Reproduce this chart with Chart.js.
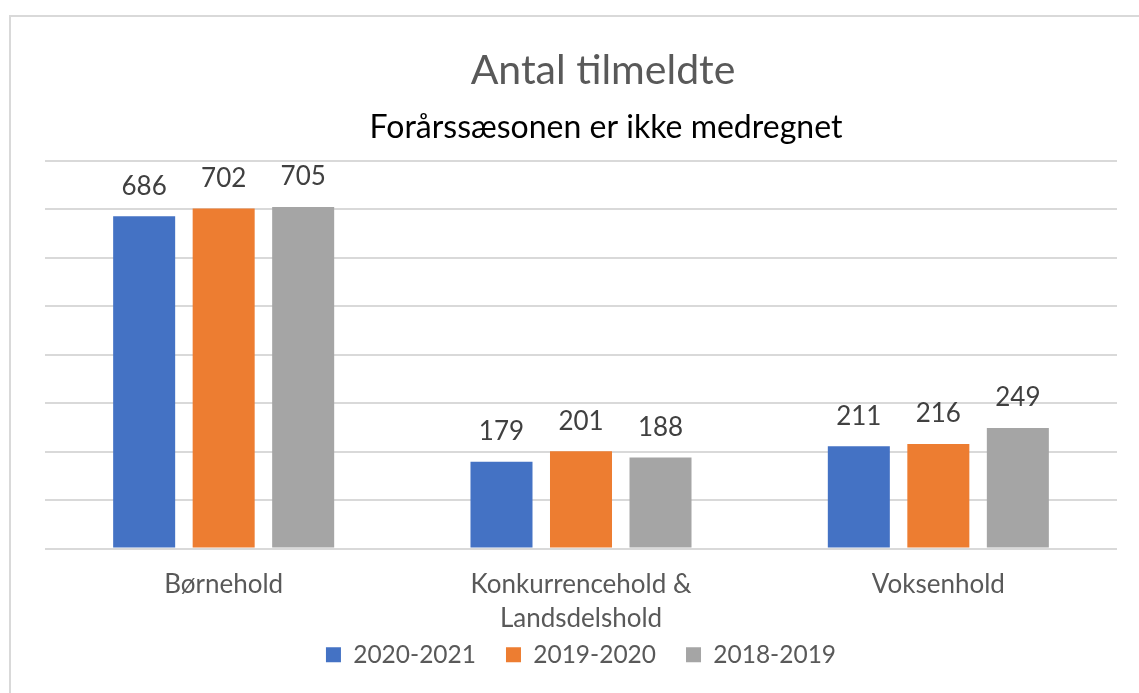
<!DOCTYPE html>
<html>
<head>
<meta charset="utf-8">
<script src="https://cdn.jsdelivr.net/npm/chart.js@4.4.1/dist/chart.umd.min.js"></script>
<style>
  html, body { margin: 0; padding: 0; background: #fff; }
  #wrap { position: relative; width: 1139px; height: 693px; }
</style>
</head>
<body>
<div id="wrap"><canvas id="myChart"></canvas></div>
<script>
const titleText = "Antal tilmeldte";
const subtitleText = "Forårssæsonen er ikke medregnet";
const categories = ["Børnehold", ["Konkurrencehold &", "Landsdelshold"], "Voksenhold"];
const seriesNames = ["2020-2021", "2019-2020", "2018-2019"];
const values2021 = [686, 179, 211];
const values2020 = [702, 201, 216];
const values2019 = [705, 188, 249];
const colors = ["#4472C4", "#ED7D31", "#A5A5A5"];
const yMax = 800;
const yStep = 100;

const fontFamily = "Lato, 'Noto Sans', sans-serif";

// frame + titles, drawn on the canvas behind the chart
const frameAndTitles = {
  id: "frameAndTitles",
  beforeDraw(chart) {
    const ctx = chart.ctx;
    ctx.save();
    ctx.fillStyle = "#d9d9d9";
    ctx.fillRect(9, 15, 2, chart.height - 15);
    ctx.fillRect(9, 15, chart.width - 9, 2);

    const cx = (chart.chartArea.left + chart.chartArea.right) / 2 + 22;
    ctx.textAlign = "center";
    ctx.textBaseline = "middle";
    ctx.fillStyle = "#595959";
    ctx.font = "41px " + fontFamily;
    ctx.fillText(titleText, cx, 71);
    ctx.fillStyle = "#000000";
    ctx.font = "32px " + fontFamily;
    ctx.fillText(subtitleText, cx + 3, 128);
    ctx.restore();
  },
};

// the x labels get clipped to the axis box, let them run into the legend strip
const unclipX = {
  id: "unclipX",
  afterLayout(chart) {
    chart.scales.x.bottom = chart.height;
  },
};

// value labels above each bar
const barLabels = {
  id: "barLabels",
  afterDatasetsDraw(chart) {
    const ctx = chart.ctx;
    ctx.save();
    ctx.font = "26px " + fontFamily;
    ctx.fillStyle = "#404040";
    ctx.textAlign = "center";
    ctx.textBaseline = "middle";
    chart.data.datasets.forEach((ds, i) => {
      chart.getDatasetMeta(i).data.forEach((bar, j) => {
        ctx.fillText(String(ds.data[j]), bar.x, bar.y - 30);
      });
    });
    ctx.restore();
  },
};

const myChart = document.querySelector("#myChart");
const chart = new Chart(myChart, {
  type: "bar",
  data: {
    labels: categories,
    datasets: [
      { label: seriesNames[0], data: values2021, backgroundColor: colors[0] },
      { label: seriesNames[1], data: values2020, backgroundColor: colors[1] },
      { label: seriesNames[2], data: values2019, backgroundColor: colors[2] },
    ],
  },
  options: {
    responsive: true,
    maintainAspectRatio: false,
    animation: false,
    datasets: {
      bar: { categoryPercentage: 0.6675, barPercentage: 0.78, borderWidth: 0 },
    },
    layout: { padding: { top: 161, left: 45, right: 22, bottom: 16 } },
    plugins: {
      title: { display: false },
      tooltip: { enabled: false },
      legend: {
        position: "bottom",
        labels: {
          boxWidth: 15,
          boxHeight: 15,
          padding: 30,
          color: "#595959",
          font: { size: 24.5, family: fontFamily },
        },
      },
    },
    scales: {
      x: {
        grid: { display: false, drawTicks: false },
        border: { display: false },
        ticks: {
          color: "#595959",
          padding: 19,
          maxRotation: 0,
          font: { size: 26, family: fontFamily, lineHeight: 1.3 },
        },
        afterFit(scale) {
          scale.height = 64;
        },
      },
      y: {
        min: 0,
        max: yMax,
        ticks: { display: false, stepSize: yStep },
        grid: { color: "#d9d9d9", lineWidth: 2, drawTicks: false },
        border: { display: false },
        afterFit(scale) {
          scale.width = 0;
        },
      },
    },
  },
  plugins: [frameAndTitles, unclipX, barLabels],
});
</script>
</body>
</html>
